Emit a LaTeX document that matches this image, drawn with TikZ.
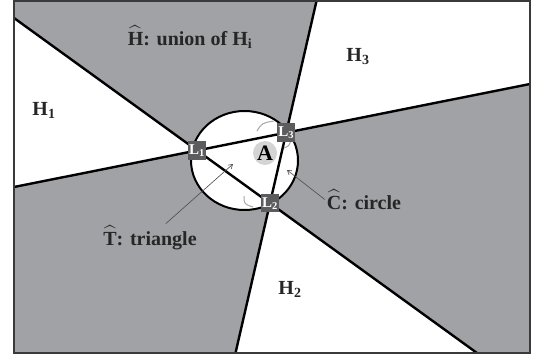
\documentclass[tikz,border=0pt]{standalone}
\usepackage{amsmath}
\usepackage{fontspec}
\setmainfont{Liberation Serif}
\usetikzlibrary{arrows.meta,calc}
\definecolor{hgray}{HTML}{A1A2A6}
\definecolor{boxgray}{HTML}{5C5C5F}
\definecolor{framegray}{HTML}{3A3A3C}
\newcommand{\hatted}[1]{$\widehat{\mbox{#1}}$}
\tikzset{
  region/.style = {fill=hgray},
  cut/.style    = {line width=2.4pt, black},
  lbox/.style   = {fill=boxgray, text=white, minimum size=18.5pt, inner sep=0pt,
                   font=\fontsize{15}{15}\selectfont\bfseries},
  lbl/.style    = {font=\fontsize{20}{22}\selectfont\bfseries, text=black!85, inner sep=2pt},
  ptr/.style    = {-{Straight Barb[length=4pt,width=5pt]}, line width=0.6pt, draw=black!70},
  faint/.style  = {line width=1pt, draw=black!35},
}

\begin{document}
\begin{tikzpicture}[x=1pt, y=-1pt]
  \useasboundingbox (0,0) rectangle (534,356);
  % ends of the three cutting lines on the frame
  \coordinate (w1)  at (14,187);
  \coordinate (e1)  at (530,84);
  \coordinate (nw2) at (14,18);
  \coordinate (se2) at (477,353);
  \coordinate (n3)  at (316.5,1);
  \coordinate (s3)  at (235.5,353);
  \coordinate (p1) at (intersection of w1--e1 and nw2--se2);
  \coordinate (p2) at (intersection of nw2--se2 and n3--s3);
  \coordinate (p3) at (intersection of w1--e1 and n3--s3);

  % shaded half-planes
  \fill[region] (14,1) -- (n3) -- (p3) -- (p1) -- (nw2) -- cycle;
  \fill[region] (p3) -- (e1) -- (530,353) -- (se2) -- (p2) -- cycle;
  \fill[region] (p1) -- (w1) -- (14,353) -- (s3) -- (p2) -- cycle;

  \draw[line width=2pt, fill=white] (244.5,160.5) ellipse [x radius=53.5, y radius=49.5];
  \draw[cut] (w1) -- (e1);
  \draw[cut] (nw2) -- (se2);
  \draw[cut] (n3) -- (s3);
  \draw[line width=1.8pt, framegray] (14,1) rectangle (530,353);

  \draw[faint] (257,131) .. controls (262,123) .. (274,121);
  \draw[faint] (284,148) .. controls (289,146) .. (291,140);
  \draw[faint] (244,196) .. controls (244,204) .. (253,207);

  \node[lbox] (L1) at (p1) {L\textsubscript{1}};
  \node[lbox] (L2) at (p2) {L\textsubscript{2}};
  \node[lbox] (L3) at (p3) {L\textsubscript{3}};
  \node[circle, fill=black!17, minimum size=24pt, inner sep=0pt,
        font=\fontsize{22}{22}\selectfont\bfseries] (A) at (265,153) {A};

  \node[lbl, anchor=base] (hlab) at (190,45) {\hatted{H}: union of H\textsubscript{i}};
  \node[lbl, anchor=base] (h1) at (44,115) {H\textsubscript{1}};
  \node[lbl, anchor=base] (h3) at (358,61) {H\textsubscript{3}};
  \node[lbl, anchor=base] (h2) at (290,294) {H\textsubscript{2}};
  \node[lbl, anchor=base] (clab) at (364,209) {\hatted{C}: circle};
  \node[lbl, anchor=base] (tlab) at (150,245) {\hatted{T}: triangle};

  \coordinate (ttip) at (233,164);
  \coordinate (ctip) at (287,170);
  \draw[ptr] (tlab) -- (ttip);
  \draw[ptr] (clab.west) -- (ctip);
\end{tikzpicture}
\end{document}
